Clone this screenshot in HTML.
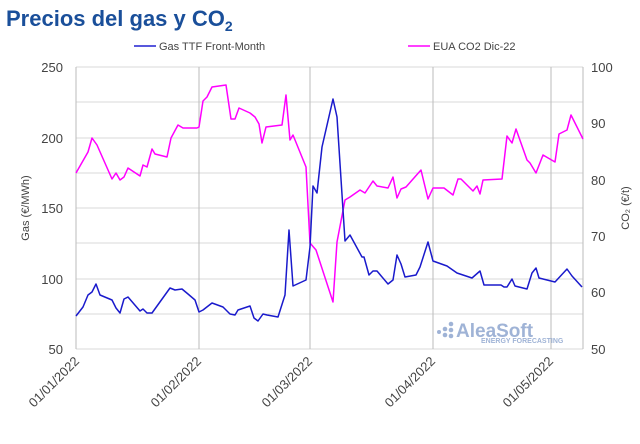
<!DOCTYPE html>
<html><head><meta charset="utf-8"><style>
body{margin:0;background:#fff;}
svg{display:block;font-family:"Liberation Sans",sans-serif;}
</style></head><body>
<svg width="640" height="444" viewBox="0 0 640 444" xmlns="http://www.w3.org/2000/svg">
<rect width="640" height="444" fill="#fff"/>
<text x="6" y="26" font-size="22" font-weight="bold" fill="#1a4f9a">Precios del gas y CO<tspan font-size="14" dy="5">2</tspan></text>
<line x1="134" y1="46" x2="156" y2="46" stroke="#2020d0" stroke-width="1.5"/>
<text x="159" y="50" font-size="11" fill="#444">Gas TTF Front-Month</text>
<line x1="408" y1="46" x2="430" y2="46" stroke="#ff00ff" stroke-width="1.5"/>
<text x="433" y="50" font-size="11" fill="#444">EUA CO2 Dic-22</text>
<g stroke="#d9d9d9" stroke-width="1">
<line x1="76" y1="67" x2="583" y2="67"/><line x1="76" y1="102" x2="583" y2="102"/>
<line x1="76" y1="138" x2="583" y2="138"/><line x1="76" y1="173" x2="583" y2="173"/>
<line x1="76" y1="208" x2="583" y2="208"/><line x1="76" y1="243" x2="583" y2="243"/>
<line x1="76" y1="279" x2="583" y2="279"/><line x1="76" y1="314" x2="583" y2="314"/>
<line x1="76" y1="349" x2="583" y2="349"/>
</g>
<g stroke="#bbb" stroke-width="1">
<line x1="76" y1="67" x2="76" y2="349"/><line x1="199" y1="67" x2="199" y2="349"/>
<line x1="310" y1="67" x2="310" y2="349"/><line x1="433" y1="67" x2="433" y2="349"/>
<line x1="551" y1="67" x2="551" y2="349"/><line x1="583" y1="67" x2="583" y2="349"/>
</g>
<g font-size="13" fill="#444" text-anchor="end">
<text x="63" y="72">250</text><text x="63" y="143">200</text><text x="63" y="213">150</text>
<text x="63" y="284">100</text><text x="63" y="354">50</text>
</g>
<g font-size="13" fill="#444">
<text x="591" y="72">100</text><text x="591" y="128">90</text><text x="591" y="185">80</text>
<text x="591" y="241">70</text><text x="591" y="297">60</text><text x="591" y="354">50</text>
</g>
<text transform="translate(29,208) rotate(-90)" font-size="11" fill="#444" text-anchor="middle">Gas (€/MWh)</text>
<text transform="translate(629,208) rotate(-90)" font-size="11" fill="#444" text-anchor="middle">CO₂ (€/t)</text>
<g font-size="13" fill="#444" text-anchor="end">
<text transform="translate(80,362) rotate(-45)">01/01/2022</text>
<text transform="translate(202,362) rotate(-45)">01/02/2022</text>
<text transform="translate(313,362) rotate(-45)">01/03/2022</text>
<text transform="translate(436,362) rotate(-45)">01/04/2022</text>
<text transform="translate(554,362) rotate(-45)">01/05/2022</text>
</g>
<g fill="#9fb3d6">
<circle cx="439" cy="332" r="2"/><circle cx="445" cy="329" r="2.3"/><circle cx="445" cy="335" r="2.3"/>
<circle cx="451" cy="324" r="2.3"/><circle cx="451" cy="330" r="2.3"/><circle cx="451" cy="336" r="2.3"/>
</g>
<text x="456" y="337" font-size="19" font-weight="bold" fill="#9fb3d6">AleaSoft</text>
<text x="481" y="343" font-size="7" font-weight="bold" fill="#9fb3d6">ENERGY FORECASTING</text>
<polyline fill="none" stroke="#ff00ff" stroke-width="1.5" stroke-linejoin="round" points="76,173 88,152 92,138 97,145 112,179 116,173 120,180 124,177 128,168 140,176 143,165 147,167 152,149 155,154 167,157 171,138 178,125 183,128 197,128 199,127 203,101 207,97 212,87 226,85 231,119 235,119 239,108 250,113 255,117 259,124 262,143 266,127 282,125 286,95 290,140 293,135 306,167 310,243 316,250 333,302 337,242 345,200 350,197 360,190 365,193 373,181 377,186 388,188 393,177 397,198 401,189 406,187 421,170 428,199 433,188 444,188 453,195 458,179 461,179 473,191 477,186 480,194 483,180 502,179 507,136 512,143 516,129 527,160 530,163 536,173 543,155 555,162 559,134 567,130 571,115 583,139"/>
<polyline fill="none" stroke="#1a1acc" stroke-width="1.5" stroke-linejoin="round" points="76,316 83,307 88,295 92,292 96,284 100,295 112,300 116,308 120,313 124,299 128,297 140,311 143,309 147,313 152,313 170,288 175,290 182,289 188,294 195,300 199,312 203,310 212,303 223,307 230,314 235,315 238,310 250,306 254,318 258,321 263,314 267,315 278,317 285,295 289,230 293,286 306,280 310,247 313,186 317,193 322,147 333,99 337,117 345,241 350,235 362,257 364,257 369,275 373,271 377,271 388,284 393,280 397,255 401,264 405,277 416,275 420,267 428,242 433,261 447,266 457,273 472,278 480,271 484,285 501,285 504,287 507,287 512,279 515,286 527,289 532,273 536,268 539,278 555,282 567,269 572,276 582,287"/>
</svg>
</body></html>
